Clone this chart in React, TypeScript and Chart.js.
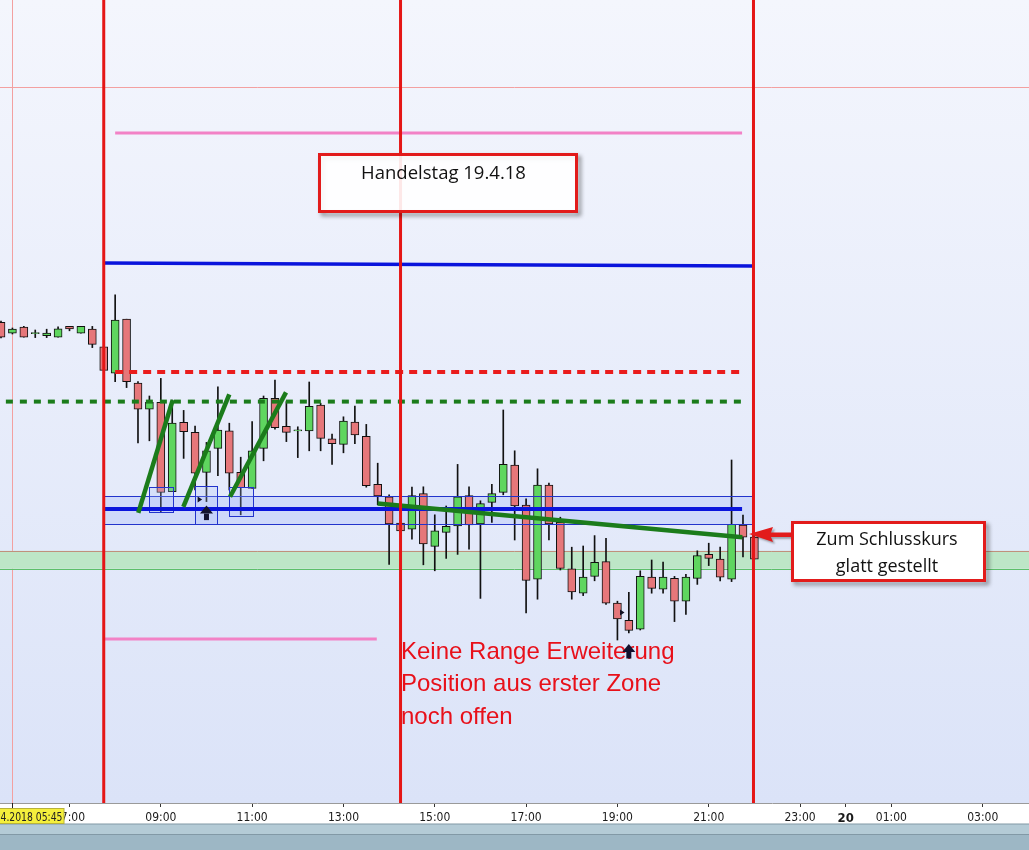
import React, { useEffect, useRef } from 'react';
import { Chart, registerables } from 'chart.js';

Chart.register(...registerables);

// ---- data (15-minute candles, 19.04.2018) ----
const TIMES = [
  '05:30', '05:45', '06:00', '06:15', '06:30', '06:45', '07:00', '07:15', '07:30', '07:45',
  '08:00', '08:15', '08:30', '08:45', '09:00', '09:15', '09:30', '09:45', '10:00', '10:15',
  '10:30', '10:45', '11:00', '11:15', '11:30', '11:45', '12:00', '12:15', '12:30', '12:45',
  '13:00', '13:15', '13:30', '13:45', '14:00', '14:15', '14:30', '14:45', '15:00', '15:15',
  '15:30', '15:45', '16:00', '16:15', '16:30', '16:45', '17:00', '17:15', '17:30', '17:45',
  '18:00', '18:15', '18:30', '18:45', '19:00', '19:15', '19:30', '19:45', '20:00', '20:15',
  '20:30', '20:45', '21:00', '21:15', '21:30', '21:45', '22:00',
];

const OPEN = [
  12519.4, 12516.7, 12518.2, 12516.6, 12516.1, 12515.7, 12518.4, 12516.7, 12517.7, 12513.3,
  12506.7, 12520.2, 12504.2, 12497.7, 12499.4, 12477.1, 12494.4, 12491.9, 12481.9, 12487.9,
  12492.3, 12481.9, 12477.9, 12487.9, 12500.4, 12493.4, 12492.3, 12492.3, 12498.7, 12490.3,
  12488.9, 12494.5, 12490.9, 12478.9, 12475.8, 12469.2, 12467.7, 12476.6, 12463.4, 12466.9,
  12468.5, 12476.1, 12469.0, 12474.4, 12476.9, 12483.7, 12473.7, 12455.2, 12478.7, 12469.4,
  12457.8, 12451.7, 12455.9, 12459.6, 12449.2, 12444.9, 12442.7, 12455.7, 12452.7, 12455.4,
  12449.7, 12455.4, 12461.4, 12460.2, 12455.2, 12468.7, 12465.7,
];
const HIGH = [
  12519.7, 12518.0, 12518.4, 12517.5, 12517.7, 12518.3, 12518.4, 12518.4, 12518.4, 12513.3,
  12526.3, 12520.2, 12504.6, 12501.0, 12505.4, 12500.0, 12497.4, 12493.5, 12489.4, 12503.3,
  12494.2, 12485.7, 12494.6, 12501.0, 12505.0, 12499.6, 12493.3, 12504.5, 12499.2, 12491.5,
  12495.8, 12498.5, 12493.9, 12484.2, 12476.3, 12470.0, 12478.2, 12478.3, 12471.3, 12473.5,
  12483.9, 12478.3, 12474.8, 12478.9, 12497.5, 12487.3, 12475.3, 12482.8, 12479.2, 12470.7,
  12463.2, 12463.5, 12466.1, 12465.4, 12449.7, 12451.9, 12457.3, 12460.0, 12459.5, 12455.9,
  12456.4, 12462.3, 12464.2, 12463.2, 12485.0, 12471.2, 12465.7,
];
const LOW = [
  12515.5, 12516.5, 12515.7, 12515.6, 12515.6, 12515.7, 12517.3, 12516.7, 12513.1, 12507.4,
  12504.6, 12503.1, 12489.3, 12489.8, 12472.0, 12477.1, 12485.4, 12477.5, 12474.6, 12481.1,
  12477.5, 12471.3, 12477.9, 12484.8, 12492.7, 12489.6, 12485.6, 12487.3, 12487.3, 12483.9,
  12486.8, 12489.1, 12478.2, 12473.8, 12458.9, 12466.8, 12465.2, 12458.8, 12457.3, 12460.4,
  12461.4, 12462.7, 12450.4, 12469.4, 12476.3, 12465.0, 12446.8, 12450.2, 12465.0, 12457.5,
  12450.2, 12451.1, 12454.8, 12448.9, 12440.0, 12441.8, 12442.5, 12451.7, 12451.7, 12444.6,
  12446.4, 12453.9, 12458.6, 12454.8, 12454.6, 12460.8, 12460.2,
];
const CLOSE = [
  12515.7, 12517.7, 12515.7, 12516.6, 12516.7, 12517.8, 12517.8, 12518.4, 12513.9, 12507.4,
  12520.0, 12504.6, 12497.7, 12499.4, 12476.9, 12494.2, 12492.1, 12481.7, 12487.3, 12492.5,
  12481.7, 12478.1, 12487.3, 12500.4, 12493.1, 12491.9, 12492.3, 12498.4, 12490.4, 12489.1,
  12494.7, 12491.3, 12478.6, 12476.0, 12469.0, 12467.3, 12476.1, 12464.0, 12467.3, 12468.4,
  12475.8, 12468.8, 12474.1, 12476.6, 12483.9, 12473.5, 12454.9, 12478.7, 12469.0, 12457.9,
  12452.0, 12455.7, 12459.4, 12449.2, 12445.3, 12442.4, 12455.9, 12452.9, 12455.7, 12449.7,
  12455.7, 12461.1, 12460.4, 12455.7, 12468.9, 12465.7, 12460.2,
];

// x-axis tick positions (hours, 24 = midnight of the 20th)
const TICK_HOURS = [7, 9, 11, 13, 15, 17, 19, 21, 23, 24, 25, 27];
const DAY_LABEL = '20';
const CURSOR_LABEL = '4.2018 05:45';
const TITLE_TEXT = 'Handelstag 19.4.18';
const NOTE_LINES = ['Zum Schlusskurs', 'glatt gestellt'];
const RANGE_LINES = ['Keine Range Erweiterung', 'Position aus erster Zone', 'noch offen'];

// annotation levels (price) and time spans (hours)
const SESSION_TIMES = [7.75, 14.25, 21.98];
const PINK_TOP = { from: 8.0, to: 21.73, level: 12566.75 };
const BLUE_TOP = { from: 7.75, to: 21.98, start: 12534.25, end: 12533.5 };
const RED_DASH = { from: 8.0, to: 21.68, level: 12507.0 };
const GREEN_DASH = { from: 5.3, to: 21.75, level: 12499.6 };
const BLUE_MAIN = { from: 7.75, to: 21.73, level: 12472.75 };
const BLUE_BAND = { from: 7.75, to: 21.98, hi: 12475.9, lo: 12469.0 };
const GREEN_BAND = { hi: 12462.3, lo: 12457.8 };
const PINK_LOW = { from: 7.75, to: 13.73, level: 12440.25 };
const TRENDS = [
  [8.507, 12471.8, 9.261, 12500.0],
  [9.493, 12473.3, 10.5, 12501.4],
  [10.516, 12475.8, 11.742, 12501.9],
  [13.75, 12474.1, 21.735, 12465.7],
];
const ENTRY_BOXES = [
  [8.748, 9.261, 12478.2, 12471.9],
  [9.756, 10.237, 12478.4, 12469.1],
  [10.5, 11.013, 12478.2, 12470.9],
];
const UP_ARROWS = [[10.0, 12473.6], [19.25, 12439.0]];
const MARKERS = [[9.85, 12475.1], [19.1, 12446.9]];
const CURSOR = { time: 5.75, price: 12578.25 };

const X_VIEW = [5.478, 28.014];
const Y_VIEW = [12399.25, 12600];

const GREEN = '#5fd65f';
const RED = '#e6777a';
const NARROW = "'Liberation Sans Narrow', 'DejaVu Sans Condensed', 'Liberation Sans', sans-serif";
const UI_FONT = "'Open Sans', 'Noto Sans', sans-serif";

const toHours = (t: string) => {
  const [h, m] = t.split(':').map(Number);
  return h + m / 60;
};

function drawUpArrow(ctx: CanvasRenderingContext2D, x: number, y: number) {
  ctx.save();
  ctx.fillStyle = '#12122e';
  ctx.beginPath();
  ctx.moveTo(x, y);
  ctx.lineTo(x + 6.5, y + 8);
  ctx.lineTo(x - 6.5, y + 8);
  ctx.closePath();
  ctx.fill();
  ctx.fillRect(x - 2.5, y + 8, 5, 6.5);
  ctx.restore();
}

const annotPlugin = {
  id: 'annot',
  beforeDraw(chart: any) {
    const { ctx, chartArea: a } = chart;
    ctx.save();
    ctx.fillStyle = '#ffffff';
    ctx.fillRect(0, 0, chart.width, chart.height);
    const g = ctx.createLinearGradient(0, a.top, 0, a.bottom);
    g.addColorStop(0, '#f4f6fd');
    g.addColorStop(1, '#dbe3f8');
    ctx.fillStyle = g;
    ctx.fillRect(a.left, a.top, a.right - a.left, a.bottom - a.top);
    ctx.restore();
  },
  beforeDatasetsDraw(chart: any) {
    const { ctx, chartArea: a } = chart;
    const xs = chart.scales.x;
    const ys = chart.scales.y;
    const X = (v: number) => xs.getPixelForValue(v);
    const Y = (v: number) => ys.getPixelForValue(v);
    ctx.save();
    ctx.beginPath();
    ctx.rect(a.left, a.top, a.right - a.left, a.bottom - a.top);
    ctx.clip();
    // crosshair
    ctx.strokeStyle = '#f3a0a0';
    ctx.lineWidth = 1;
    ctx.beginPath();
    ctx.moveTo(a.left, Math.round(Y(CURSOR.price)) + 0.5);
    ctx.lineTo(a.right, Math.round(Y(CURSOR.price)) + 0.5);
    ctx.moveTo(Math.round(X(CURSOR.time)) + 0.5, a.top);
    ctx.lineTo(Math.round(X(CURSOR.time)) + 0.5, a.bottom);
    ctx.stroke();
    // green zone
    const gy1 = Y(GREEN_BAND.hi);
    const gy2 = Y(GREEN_BAND.lo);
    ctx.fillStyle = '#bde6c7';
    ctx.fillRect(a.left, gy1, a.right - a.left, gy2 - gy1);
    ctx.lineWidth = 1;
    ctx.strokeStyle = '#c0907c';
    ctx.beginPath();
    ctx.moveTo(a.left, Math.round(gy1) + 0.5);
    ctx.lineTo(a.right, Math.round(gy1) + 0.5);
    ctx.stroke();
    ctx.strokeStyle = '#5cbf6a';
    ctx.beginPath();
    ctx.moveTo(a.left, Math.round(gy2) + 0.5);
    ctx.lineTo(a.right, Math.round(gy2) + 0.5);
    ctx.stroke();
    // blue zone
    const bx1 = X(BLUE_BAND.from);
    const bx2 = X(BLUE_BAND.to);
    const by1 = Y(BLUE_BAND.hi);
    const by2 = Y(BLUE_BAND.lo);
    ctx.fillStyle = 'rgba(175,192,250,0.4)';
    ctx.fillRect(bx1, by1, bx2 - bx1, by2 - by1);
    ctx.restore();
  },
  afterDatasetsDraw(chart: any) {
    const { ctx, chartArea: a } = chart;
    const xs = chart.scales.x;
    const ys = chart.scales.y;
    const X = (v: number) => xs.getPixelForValue(v);
    const Y = (v: number) => ys.getPixelForValue(v);
    ctx.save();
    ctx.beginPath();
    ctx.rect(a.left, a.top, a.right - a.left, a.bottom - a.top);
    ctx.clip();

    const line = (x1: number, y1: number, x2: number, y2: number, color: string, w: number, dash: number[] = []) => {
      ctx.save();
      ctx.strokeStyle = color;
      ctx.lineWidth = w;
      ctx.setLineDash(dash);
      ctx.lineCap = 'butt';
      ctx.beginPath();
      ctx.moveTo(x1, y1);
      ctx.lineTo(x2, y2);
      ctx.stroke();
      ctx.restore();
    };

    // blue band borders
    const bx1 = X(BLUE_BAND.from);
    const bx2 = X(BLUE_BAND.to);
    line(bx1, Math.round(Y(BLUE_BAND.hi)) + 0.5, bx2, Math.round(Y(BLUE_BAND.hi)) + 0.5, '#2233cc', 1);
    line(bx1, Math.round(Y(BLUE_BAND.lo)) + 0.5, bx2, Math.round(Y(BLUE_BAND.lo)) + 0.5, '#2233cc', 1);

    // entry boxes
    ENTRY_BOXES.forEach(([t1, t2, p1, p2]) => {
      const x1 = Math.round(X(t1)) + 0.5;
      const x2 = Math.round(X(t2)) + 0.5;
      const y1 = Math.round(Y(p1)) + 0.5;
      const y2 = Math.round(Y(p2)) + 0.5;
      ctx.fillStyle = 'rgba(170,190,250,0.25)';
      ctx.fillRect(x1, y1, x2 - x1, y2 - y1);
      ctx.strokeStyle = '#2233cc';
      ctx.lineWidth = 1;
      ctx.strokeRect(x1, y1, x2 - x1, y2 - y1);
    });

    // horizontal levels
    line(X(PINK_TOP.from), Y(PINK_TOP.level), X(PINK_TOP.to), Y(PINK_TOP.level), '#f282c6', 3);
    line(X(PINK_LOW.from), Y(PINK_LOW.level), X(PINK_LOW.to), Y(PINK_LOW.level), '#f282c6', 3);
    line(X(BLUE_TOP.from), Y(BLUE_TOP.start), X(BLUE_TOP.to), Y(BLUE_TOP.end), '#0a14dc', 3.5);
    line(X(RED_DASH.from), Y(RED_DASH.level), X(RED_DASH.to), Y(RED_DASH.level), '#ea1c1c', 4, [8, 6]);
    line(X(GREEN_DASH.from), Y(GREEN_DASH.level), X(GREEN_DASH.to), Y(GREEN_DASH.level), '#1b7c1b', 4, [7, 7]);
    line(X(BLUE_MAIN.from), Y(BLUE_MAIN.level), X(BLUE_MAIN.to), Y(BLUE_MAIN.level), '#0a14dc', 4);

    // trend lines
    TRENDS.forEach(([t1, p1, t2, p2]) => {
      line(X(t1), Y(p1), X(t2), Y(p2), '#1b7c1b', 4.5);
    });

    // session verticals
    SESSION_TIMES.forEach((t) => {
      line(X(t), a.top, X(t), a.bottom, '#e51616', 3);
    });

    // small markers
    ctx.fillStyle = '#111122';
    MARKERS.forEach(([t, p]) => {
      const x = X(t);
      const y = Y(p);
      ctx.beginPath();
      ctx.moveTo(x - 2, y - 3);
      ctx.lineTo(x + 2.5, y);
      ctx.lineTo(x - 2, y + 3);
      ctx.closePath();
      ctx.fill();
    });
    drawUpArrow(ctx, X(UP_ARROWS[0][0]), Y(UP_ARROWS[0][1]));
    ctx.restore();

    // red text
    ctx.save();
    ctx.fillStyle = '#e8101a';
    ctx.font = "24px 'Liberation Sans', Arial, sans-serif";
    ctx.textAlign = 'left';
    ctx.textBaseline = 'alphabetic';
    RANGE_LINES.forEach((s, i) => ctx.fillText(s, 401, 658.5 + i * 32.5));
    ctx.restore();
    // second up arrow is drawn over the text
    drawUpArrow(ctx, X(UP_ARROWS[1][0]), Y(UP_ARROWS[1][1]));

    const box = (x: number, y: number, w: number, h: number, fill: string) => {
      ctx.save();
      ctx.shadowColor = 'rgba(0,0,0,0.45)';
      ctx.shadowBlur = 4;
      ctx.shadowOffsetX = 3;
      ctx.shadowOffsetY = 3;
      ctx.strokeStyle = '#e21b1b';
      ctx.lineWidth = 3;
      ctx.strokeRect(x, y, w, h);
      ctx.restore();
      ctx.save();
      ctx.fillStyle = fill;
      ctx.fillRect(x + 1.5, y + 1.5, w - 3, h - 3);
      ctx.strokeStyle = '#e21b1b';
      ctx.lineWidth = 3;
      ctx.strokeRect(x, y, w, h);
      ctx.restore();
    };

    // title box
    box(319.5, 154.5, 257, 57, 'rgba(255,255,255,0.9)');
    ctx.save();
    ctx.fillStyle = '#111111';
    ctx.font = `18.5px ${UI_FONT}`;
    ctx.textAlign = 'center';
    ctx.fillText(TITLE_TEXT, 443.5, 179);
    ctx.restore();

    // red arrow
    ctx.save();
    ctx.shadowColor = 'rgba(0,0,0,0.3)';
    ctx.shadowBlur = 2;
    ctx.shadowOffsetX = 2;
    ctx.shadowOffsetY = 2;
    ctx.fillStyle = '#e21b1b';
    ctx.beginPath();
    ctx.moveTo(749, 534);
    ctx.lineTo(773, 527);
    ctx.lineTo(771, 532.5);
    ctx.lineTo(806, 532.5);
    ctx.lineTo(806, 537);
    ctx.lineTo(771, 537);
    ctx.lineTo(773, 542);
    ctx.closePath();
    ctx.fill();
    ctx.restore();

    // note box
    box(792.5, 522.5, 192, 58, '#ffffff');
    ctx.save();
    ctx.fillStyle = '#111111';
    ctx.font = `18px ${UI_FONT}`;
    ctx.textAlign = 'center';
    ctx.fillText(NOTE_LINES[0], 887, 545);
    ctx.fillText(NOTE_LINES[1], 887, 572);
    ctx.restore();
  },
  afterDraw(chart: any) {
    const { ctx } = chart;
    const xs = chart.scales.x;
    ctx.save();
    // bottom strips
    ctx.fillStyle = '#b4cbd6';
    ctx.fillRect(0, 824, chart.width, 10);
    ctx.fillStyle = '#9db7c5';
    ctx.fillRect(0, 835, chart.width, 15);
    ctx.fillStyle = '#8299a6';
    ctx.fillRect(0, 823.5, chart.width, 1);
    ctx.fillRect(0, 834, chart.width, 1);
    // cursor label
    const cx = Math.round(xs.getPixelForValue(CURSOR.time)) + 0.5;
    ctx.strokeStyle = '#222';
    ctx.lineWidth = 1;
    ctx.beginPath();
    ctx.moveTo(cx, 803);
    ctx.lineTo(cx, 808);
    ctx.stroke();
    ctx.fillStyle = '#f4ef3c';
    ctx.fillRect(0, 808, 64, 15.5);
    ctx.strokeStyle = '#b8b23a';
    ctx.strokeRect(-1, 808.5, 65, 15);
    ctx.fillStyle = '#222';
    ctx.font = `12px ${NARROW}`;
    ctx.textAlign = 'left';
    ctx.textBaseline = 'alphabetic';
    const w = ctx.measureText(CURSOR_LABEL).width;
    const sx = Math.min(1, 62 / w);
    ctx.translate(0.5, 820.5);
    ctx.scale(sx, 1);
    ctx.fillText(CURSOR_LABEL, 0, 0);
    ctx.restore();
  },
};

export default function App() {
  const ref = useRef<HTMLCanvasElement>(null);
  useEffect(() => {
    document.body.style.margin = '0';
    const hours = TIMES.map(toHours);
    const bodyColors = OPEN.map((o, i) => (CLOSE[i] >= o ? GREEN : RED));
    const chart = new Chart(ref.current as HTMLCanvasElement, {
      type: 'bar',
      data: {
        datasets: [
          {
            label: 'wick',
            data: hours.map((h, i) => ({ x: h, y: [LOW[i], HIGH[i]] })) as any,
            backgroundColor: '#111111',
            barThickness: 1,
            grouped: false,
            order: 2,
          } as any,
          {
            label: 'body',
            data: hours.map((h, i) => ({ x: h, y: [OPEN[i], CLOSE[i]] })) as any,
            backgroundColor: bodyColors,
            borderColor: '#111111',
            borderWidth: 1,
            borderSkipped: false,
            barThickness: 8,
            minBarLength: 1,
            grouped: false,
            order: 1,
          } as any,
        ],
      },
      options: {
        responsive: false,
        maintainAspectRatio: false,
        animation: false,
        events: [],
        layout: { padding: 0 },
        plugins: { legend: { display: false }, tooltip: { enabled: false } },
        scales: {
          x: {
            type: 'linear',
            min: X_VIEW[0],
            max: X_VIEW[1],
            offset: false,
            grid: { display: true, drawOnChartArea: false, drawTicks: true, tickLength: 4, color: '#333', offset: false },
            border: { display: true, color: '#9a9a9a' },
            ticks: {
              autoSkip: false,
              maxRotation: 0,
              padding: 4,
              color: '#1a1a1a',
              font: (c: any) =>
                c.tick && c.tick.value === 24
                  ? { family: NARROW, size: 13, weight: 'bold' }
                  : { family: NARROW, size: 12 },
              callback: (v: any) => {
                const n = Number(v);
                if (n === 24) return DAY_LABEL;
                const hh = n % 24;
                return (hh < 10 ? '0' : '') + hh + ':00';
              },
            },
            afterBuildTicks: (s: any) => {
              s.ticks = TICK_HOURS.map((v) => ({ value: v }));
            },
            afterFit: (s: any) => {
              s.height = 47;
            },
          } as any,
          y: { type: 'linear', min: Y_VIEW[0], max: Y_VIEW[1], display: false },
        },
      },
      plugins: [annotPlugin],
    });
    return () => chart.destroy();
  }, []);
  return <canvas ref={ref} width={1029} height={850} style={{ display: 'block' }} />;
}
